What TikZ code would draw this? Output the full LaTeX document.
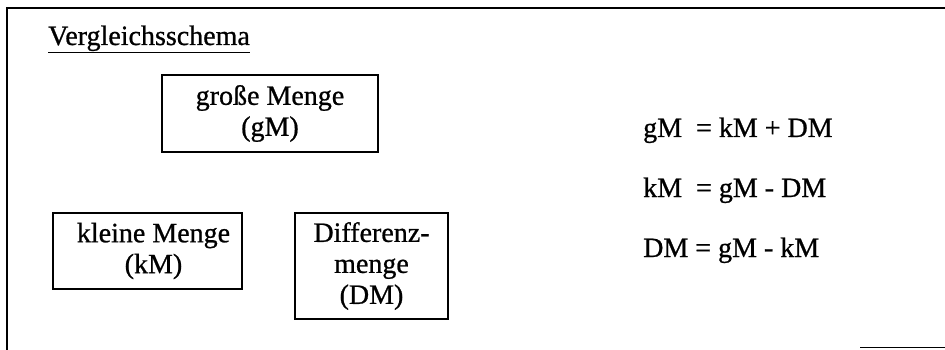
\documentclass[tikz,border=0pt]{standalone}
\usepackage{fontspec}
\setmainfont[FakeBold=0.8]{Liberation Serif}
\begin{document}
\begin{tikzpicture}[x=1pt,y=-1pt,
  frame/.style={line width=1.4pt},
  box/.style={draw,line width=1.4pt,align=center,inner sep=0pt,font=\fontsize{28}{31}\selectfont},
  txt/.style={inner sep=0pt,anchor=base west,font=\fontsize{28}{31}\selectfont}]
\useasboundingbox (0,0) rectangle (945,350);
\coordinate (tl) at (7,8);
\coordinate (tr) at (945,8);
\coordinate (bl) at (7,350);
\draw[frame] (tr) -- (tl) -- (bl);
\coordinate (br1) at (860,347);
\coordinate (br2) at (945,347);
\draw[line width=1pt] (br1) -- (br2);
\node[txt] (title) at (48,45) {\underline{Vergleichsschema}};
\node[box,minimum width=216pt,minimum height=77pt] (gM) at (270,113.5) {große Menge\\(gM)};
\node[box,minimum width=189pt,minimum height=76pt] (kM) at (147.5,251) {\hspace*{12pt}kleine Menge\\\hspace*{12pt}(kM)};
\node[box,minimum width=153pt,minimum height=106pt] (DM) at (371.5,266) {Differenz-\\menge\\(DM)};
\node[txt] (e1) at (643,137) {gM\ \ = kM + DM};
\node[txt] (e2) at (643,197) {kM\ \ = gM - DM};
\node[txt] (e3) at (643,257) {DM = gM - kM};
\end{tikzpicture}
\end{document}
